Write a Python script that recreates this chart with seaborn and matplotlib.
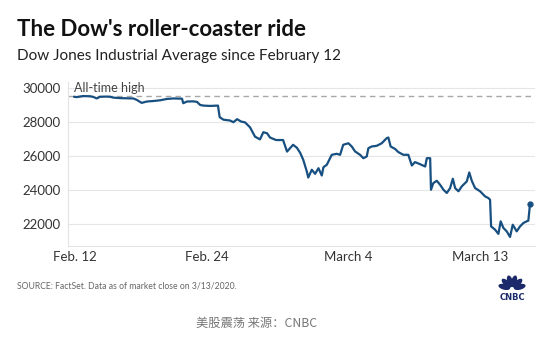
import numpy as np
import pandas as pd
import matplotlib
matplotlib.use("Agg")
import matplotlib.pyplot as plt
from matplotlib.patches import Ellipse
import seaborn as sns

# Dow Jones Industrial Average, Feb 12 - Mar 13 2020, intraday path.
# session_pos: trading-session time (0 = Feb 12 open, 1 = Feb 13 open, ...)
session_pos = [
    0.00, 0.13, 0.43, 0.77, 0.93, 1.09, 1.25, 1.57, 1.73, 1.89,
    2.21, 2.53, 2.85, 3.01, 3.25, 3.50, 3.81, 4.13, 4.46, 4.77,
    5.10, 5.19, 5.25, 5.43, 5.72, 5.91, 6.06, 6.22, 6.54, 6.92,
    7.00, 7.18, 7.50, 7.66, 7.84, 8.03, 8.22, 8.46, 8.70, 8.94,
    9.10, 9.28, 9.42, 9.71, 10.05, 10.24, 10.53, 10.71, 10.87, 11.02,
    11.19, 11.26, 11.43, 11.59, 11.75, 11.91, 11.99, 12.15, 12.39, 12.63,
    12.79, 12.94, 13.19, 13.35, 13.51, 13.75, 13.91, 14.07, 14.15, 14.31,
    14.55, 14.79, 15.03, 15.11, 15.22, 15.43, 15.59, 15.83, 16.07, 16.24,
    16.39, 16.63, 16.88, 16.96, 17.12, 17.16, 17.27, 17.44, 17.60, 17.76,
    17.92, 18.08, 18.21, 18.32, 18.48, 18.64, 18.88, 19.00, 19.12, 19.28,
    19.52, 19.76, 19.92, 20.00, 20.05, 20.24, 20.40, 20.51, 20.64, 20.80,
    20.96, 21.09, 21.28, 21.44, 21.60, 21.76, 21.84, 21.92,
]
dow_level = [
    29500, 29480, 29540, 29530, 29490, 29400, 29500, 29510, 29500, 29450,
    29420, 29410, 29400, 29320, 29140, 29220, 29250, 29290, 29370, 29400,
    29390, 29390, 29120, 29220, 29230, 29200, 29020, 28980, 28960, 28980,
    28300, 28150, 28100, 28000, 28180, 28040, 27990, 27700, 27150, 26990,
    27410, 27350, 27100, 26950, 26950, 26270, 26670, 26500, 26200, 25780,
    25100, 24740, 25200, 24960, 25290, 24860, 25350, 25490, 26080, 26140,
    26080, 26670, 26760, 26570, 26280, 26080, 25880, 25980, 26470, 26570,
    26610, 26760, 27060, 27100, 26570, 26430, 26240, 26080, 26080, 25450,
    25650, 25530, 25390, 25880, 25880, 24020, 24410, 24550, 24310, 24020,
    23830, 24120, 24670, 24120, 23930, 24220, 24510, 25040, 24550, 24120,
    23930, 23630, 23530, 23430, 21860, 21670, 21420, 22160, 21770, 21570,
    21240, 21960, 21570, 21860, 22060, 22160, 22200, 23180,
]

all_time_high = 29551
y_ticks = [22000, 24000, 26000, 28000, 30000]
x_tick_labels = ["Feb. 12", "Feb. 24", "March 4", "March 13"]
x_tick_pos = [0.05, 6.39, 13.17, 19.52]

df = pd.DataFrame({"session": session_pos, "dow": dow_level})

sns.set_theme(style="white")
plt.rcParams["font.family"] = ["Lato", "DejaVu Sans"]

LINE = "#174f80"
fig = plt.figure(figsize=(5.57, 3.38), dpi=100)
ax = fig.add_axes([68 / 557, 1 - 245.7 / 338, 467 / 557, 163.7 / 338])

sns.lineplot(data=df, x="session", y="dow", ax=ax, color=LINE, linewidth=1.6)
ax.plot(session_pos[-1], dow_level[-1], "o", color=LINE, markersize=3.5)

ax.axhline(all_time_high, color="#a8a8a8", linestyle=(0, (4, 3)), linewidth=1.0, zorder=1)
ax.text(0.0, all_time_high + 120, "All-time high", color="#444444", fontsize=9,
        ha="left", va="bottom")

ax.set_xlim(-0.29, 22.16)
ax.set_ylim(20724, 30370)
ax.set_yticks(y_ticks)
ax.set_yticklabels([str(v) for v in y_ticks])
ax.set_xticks(x_tick_pos)
ax.set_xticklabels(x_tick_labels)
ax.yaxis.grid(True, color="#e6e6e6", linewidth=0.8)
ax.set_axisbelow(True)
ax.tick_params(axis="both", length=0, labelsize=9.5, labelcolor="#333333")
ax.tick_params(axis="y", pad=5)
ax.tick_params(axis="x", pad=4)
ax.set_xlabel("")
ax.set_ylabel("")
for side in ["top", "right"]:
    ax.spines[side].set_visible(False)
for side in ["left", "bottom"]:
    ax.spines[side].set_color("#e3e3e3")
    ax.spines[side].set_linewidth(0.8)

fig.text(17 / 557, 1 - 29 / 338, "The Dow's roller-coaster ride", fontsize=16,
         fontweight="bold", color="#111111", ha="left", va="center")
fig.text(17 / 557, 1 - 56 / 338, "Dow Jones Industrial Average since February 12",
         fontsize=11, color="#222222", ha="left", va="center")
fig.text(17 / 557, 1 - 286 / 338,
         "SOURCE: FactSet. Data as of market close on 3/13/2020.",
         fontsize=6.2, color="#666666", ha="left", va="center")
fig.text(257 / 557, 1 - 323 / 338, "美股震荡 来源：CNBC", fontsize=8.8, color="#777777",
         ha="center", va="center", family=["Noto Sans CJK SC", "DejaVu Sans"])

# CNBC peacock mark
logo = fig.add_axes([495 / 557, 1 - 302 / 338, 34 / 557, 40 / 338])
logo.set_xlim(0, 34)
logo.set_ylim(0, 40)
logo.axis("off")
NAVY = "#1c2a6b"
for ang in [15, 45, 75, 105, 135, 165]:
    r = np.deg2rad(ang)
    cx, cy = 17 + 8 * np.cos(r), 13 + 8 * np.sin(r)
    logo.add_patch(Ellipse((cx, cy), width=12, height=5.6, angle=ang,
                           color=NAVY, lw=0))
logo.text(17, 5, "CNBC", fontsize=6, fontweight="bold", color=NAVY,
          ha="center", va="center", family="DejaVu Sans")

fig.savefig("out.png", dpi=100)
